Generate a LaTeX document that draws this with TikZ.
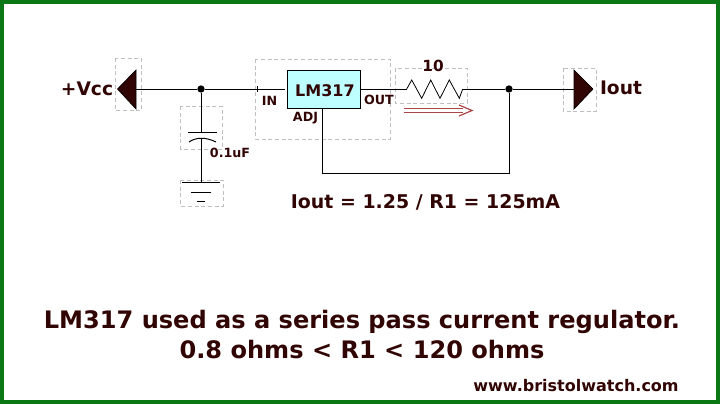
\documentclass[tikz,border=0pt]{standalone}
\usepackage{fontspec}
\setmainfont{DejaVu Sans}
\definecolor{framegreen}{RGB}{10,120,20}
\definecolor{textbrown}{RGB}{50,5,5}
\definecolor{chipfill}{RGB}{190,255,255}
\definecolor{flowred}{RGB}{170,70,70}
\tikzset{
  outline/.style={draw=black!25, dash pattern=on 3pt off 2pt, line width=0.4pt},
  wire/.style={draw=black, line width=0.75pt},
  lbl/.style={text=textbrown, font=\bfseries\fontsize{#1}{#1}\selectfont, inner sep=0pt},
  dot/.style={circle, fill=black, inner sep=0pt, minimum size=5.5pt}
}
\begin{document}
\begin{tikzpicture}[x=0.75pt,y=-0.75pt]
    \useasboundingbox (0,0) rectangle (720,404);
    \fill[white] (0,0) rectangle (720,404);
    \draw[framegreen, line width=3pt] (2,2) rectangle (718,402);
    % dashed outlines
    \draw[outline] (115.5,58) rectangle (141,110.5);
    \draw[outline] (180.5,106) rectangle (222,149);
    \draw[outline] (180.5,180) rectangle (223,206);
    \draw[outline] (255,59) rectangle (390,139);
    \draw[outline] (395,68) rectangle (467,103);
    \draw[outline] (563,68) rectangle (596,111);
    % parts
    \node[draw=black, fill=chipfill, line width=0.75pt, minimum width=54.5pt, minimum height=28pt, inner sep=0pt] (chip) at (323.8,89.5) {};
    \node[lbl=12] (chiptxt) at (325,90.5) {LM317};
    \coordinate (vcc) at (136,89);
    \coordinate (iout) at (574,89);
    \node[dot] (jA) at (201,89) {};
    \node[dot] (jB) at (509,89) {};
    \coordinate (capT) at (201,132);
    \coordinate (capB) at (201,138);
    \coordinate (gnd) at (201,182);
    \coordinate (chipin) at (285,89);
    \coordinate (chipadj) at (322.5,108);
    \coordinate (resL) at (406.7,89);
    \coordinate (resR) at (462.7,89);
    \coordinate (corner) at (322.5,173);
    \coordinate (cornerB) at (509,173);
    \filldraw[draw=black, fill=textbrown, line width=0.5pt] (117.5,89)--(136,70)--(136,109)--cycle;
    \filldraw[draw=black, fill=textbrown, line width=0.5pt] (593,89)--(574,70)--(574,109)--cycle;
    % wires
    \draw[wire] (vcc)--(jA)--(chipin);
    \draw[line width=0.5pt] (257,86)--(257,92);
    \draw[wire] (chip.east |- resL)--(resL);
    \draw[wire] (resR)--(jB)--(iout);
    \draw[wire] (jA)--(capT);
    \draw[wire] (capB)--(gnd);
    \draw[wire] (chipadj)--(corner)--(cornerB)--(jB);
    % capacitor and ground
    \draw[wire] (188,132)--(217,132);
    \draw[wire] (189,142) .. controls (196,137) and (206,137) .. (216,142);
    \draw[wire] (182,182)--(220,182);
    \draw[wire] (191,192)--(211,192);
    \draw[wire] (197,201)--(205,201);
    % resistor
    \draw[line width=0.6pt] (resL)--(411.7,80)--(421.7,98.3)--(430.7,80)--(440,98.3)--(449.3,80)--(459.3,98.3)--(resR);
    % current arrow
    \draw[flowred, line width=1.4pt] (404,108.5)--(463,108.5);
    \draw[flowred, line width=1.4pt] (404,112.5)--(463,112.5);
    \draw[flowred, line width=0.9pt] (459,105)--(472,110.5)--(459,116);
    % labels
    \node[lbl=14] (vcctxt) at (87,89) {+Vcc};
    \node[lbl=14] (ioutxt) at (621,88) {Iout};
    \node[lbl=9.5] (captxt) at (230,153) {0.1uF};
    \node[lbl=9.5] (intxt) at (269.5,100.5) {IN};
    \node[lbl=9.5] (outtxt) at (379,100) {OUT};
    \node[lbl=9.5] (adjtxt) at (305.5,118) {ADJ};
    \node[lbl=11.5] (restxt) at (433,66) {10};
    \node[lbl=14.2] (formula) at (425.5,202.5) {Iout = 1.25 / R1 = 125mA};
    \node[lbl=18.05] (titleA) at (362,322) {LM317 used as a series pass current regulator.};
    \node[lbl=18.05] (titleB) at (362,349.5) {0.8 ohms < R1 < 120 ohms};
    \node[lbl=12] (url) at (576,385.5) {www.bristolwatch.com};
\end{tikzpicture}
\end{document}
